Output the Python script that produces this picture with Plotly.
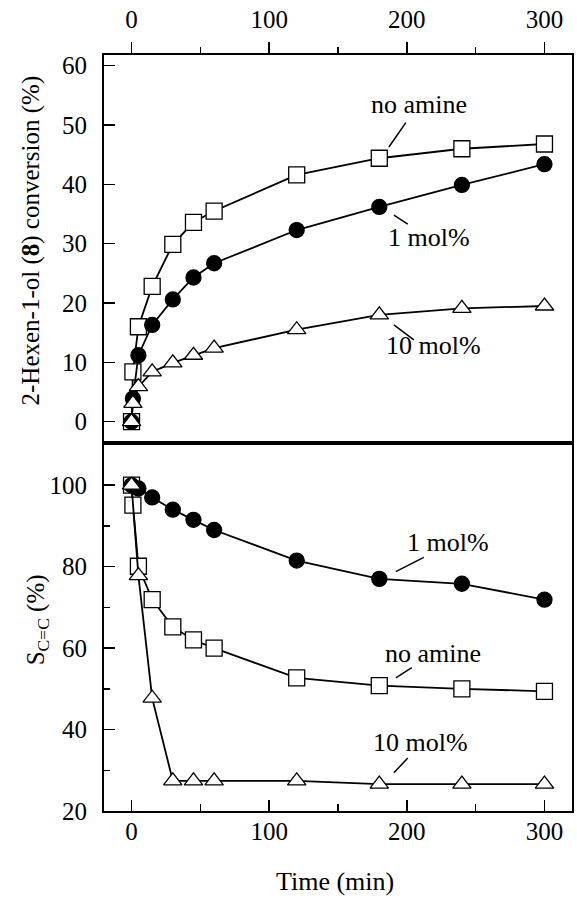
import plotly.graph_objects as go

# ---- data ----
t_conv = [0, 1, 5, 15, 30, 45, 60, 120, 180, 240, 300]
conv_none = [0, 8.4, 16.0, 22.8, 29.9, 33.6, 35.5, 41.6, 44.4, 46.0, 46.8]
conv_1 = [0, 3.9, 11.2, 16.3, 20.6, 24.3, 26.7, 32.3, 36.2, 39.9, 43.4]
conv_10 = [0, 3.1, 5.9, 8.4, 9.9, 11.2, 12.4, 15.5, 18.0, 19.1, 19.5]

t_sel_none = [0, 1, 5, 15, 30, 45, 60, 120, 180, 240, 300]
sel_none = [100, 95.1, 80.1, 71.9, 65.2, 62.0, 60.0, 52.7, 50.8, 50.0, 49.4]
t_sel = [0, 5, 15, 30, 45, 60, 120, 180, 240, 300]
sel_1 = [100, 99.2, 97.0, 94.0, 91.5, 89.0, 81.5, 77.0, 75.8, 71.9]
sel_10 = [100, 77.8, 47.7, 27.4, 27.4, 27.4, 27.4, 26.6, 26.6, 26.6]

x_ticks = [0, 100, 200, 300]

FONT = "Liberation Serif"
BLACK = "black"

fig = go.Figure()

def add_series(x, y, symbol, fill, xa, ya, size):
    fig.add_trace(go.Scatter(
        x=x, y=y, mode="lines+markers", xaxis=xa, yaxis=ya,
        line=dict(color=BLACK, width=1.8),
        marker=dict(symbol=symbol, size=size, color=fill,
                    line=dict(color=BLACK, width=1.3)),
        showlegend=False, hoverinfo="skip"))

# upper panel: conversion
add_series(t_conv, conv_none, "square", "white", "x2", "y2", 16)
add_series(t_conv, conv_1, "circle", BLACK, "x2", "y2", 15)
add_series(t_conv, conv_10, "triangle-up", "white", "x2", "y2", 16)
# lower panel: selectivity
add_series(t_sel_none, sel_none, "square", "white", "x", "y", 16)
add_series(t_sel, sel_1, "circle", BLACK, "x", "y", 15)
add_series(t_sel, sel_10, "triangle-up", "white", "x", "y", 16)

tickfont = dict(family=FONT, size=25, color=BLACK)
XR = [-20, 320]
split = 0.4864

fig.update_layout(
    width=577, height=901,
    margin=dict(l=104, r=3, t=55, b=90),
    paper_bgcolor="white", plot_bgcolor="white",
    font=dict(family=FONT, size=25, color=BLACK),
    xaxis=dict(domain=[0, 1], anchor="y", range=XR, tickvals=x_ticks,
               ticks="inside", ticklen=11, tickwidth=1.5, tickcolor=BLACK,
               minor=dict(dtick=50, tick0=0, ticks="inside", ticklen=7,
                          tickwidth=1.5, tickcolor=BLACK),
               showline=True, linewidth=2, linecolor=BLACK, mirror=True,
               showgrid=False, zeroline=False, tickfont=tickfont,
               ticklabelstandoff=-3),
    xaxis2=dict(domain=[0, 1], anchor="y2", matches="x", range=XR,
                tickvals=x_ticks, side="top",
                ticks="outside", ticklen=11, tickwidth=1.5, tickcolor=BLACK,
                minor=dict(dtick=50, tick0=0, ticks="outside", ticklen=6,
                           tickwidth=1.5, tickcolor=BLACK),
                showline=True, linewidth=2, linecolor=BLACK, mirror=True,
                showgrid=False, zeroline=False, tickfont=tickfont,
                ticklabelstandoff=4),
    yaxis=dict(domain=[0, split], anchor="x", range=[20, 110.3],
               tickvals=[20, 40, 60, 80, 100],
               ticks="inside", ticklen=11, tickwidth=1.5, tickcolor=BLACK,
               minor=dict(dtick=10, tick0=0, ticks="inside", ticklen=6,
                          tickwidth=1.5, tickcolor=BLACK),
               showline=True, linewidth=2, linecolor=BLACK, mirror=True,
               showgrid=False, zeroline=False, tickfont=tickfont,
               ticklabelstandoff=10),
    yaxis2=dict(domain=[split, 1], anchor="x2", range=[-3.64, 61.8],
                tickvals=[0, 10, 20, 30, 40, 50, 60],
                ticks="inside", ticklen=11, tickwidth=1.5, tickcolor=BLACK,
                showline=True, linewidth=2, linecolor=BLACK, mirror=True,
                showgrid=False, zeroline=False, tickfont=tickfont,
                ticklabelstandoff=10),
)

ann_font = dict(family=FONT, size=26, color=BLACK)
labels = [
    # (text, x, y, xref, yref, leader x0, y0, x1, y1)
    ("no amine", 208.7, 53.4, "x2", "y2", 199.3, 50.4, 187.0, 46.3),
    ("1 mol%", 215.9, 31.0, "x2", "y2", 190.6, 34.8, 200.7, 33.3),
    ("10 mol%", 219.5, 12.9, "x2", "y2", 190.6, 16.3, 205.1, 13.8),
    ("1 mol%", 229.7, 86.0, "x", "y", 212.3, 82.3, 192.0, 78.8),
    ("no amine", 218.8, 58.6, "x", "y", 203.6, 55.2, 192.0, 52.7),
    ("10 mol%", 210.1, 36.7, "x", "y", 200.7, 33.0, 190.6, 29.4),
]
for text, x, y, xr, yr, x0, y0, x1, y1 in labels:
    fig.add_annotation(text=text, x=x, y=y, xref=xr, yref=yr,
                       showarrow=False, font=ann_font,
                       xanchor="center", yanchor="middle")
    fig.add_shape(type="line", x0=x0, y0=y0, x1=x1, y1=y1, xref=xr, yref=yr,
                  line=dict(color=BLACK, width=1.5))

# axis titles
title_font = dict(family=FONT, size=25, color=BLACK)
fig.add_annotation(text="2-Hexen-1-ol (<b>8</b>) conversion (%)",
                   x=-0.157, y=0.754, xref="paper", yref="paper",
                   textangle=-90, showarrow=False, font=title_font,
                   xanchor="center", yanchor="middle")
fig.add_annotation(text="S<sub>C=C</sub> (%)",
                   x=-0.1426, y=0.2526, xref="paper", yref="paper",
                   textangle=-90, showarrow=False, font=title_font,
                   xanchor="center", yanchor="middle")
fig.add_annotation(text="Time (min)",
                   x=0.4936, y=-0.0939, xref="paper", yref="paper",
                   showarrow=False, font=dict(family=FONT, size=26, color=BLACK),
                   xanchor="center", yanchor="middle")

fig.write_html("out.html",
               config={"displayModeBar": False, "staticPlot": True},
               post_script="document.body.style.margin='0';"
                           "document.body.style.overflow='hidden';")
